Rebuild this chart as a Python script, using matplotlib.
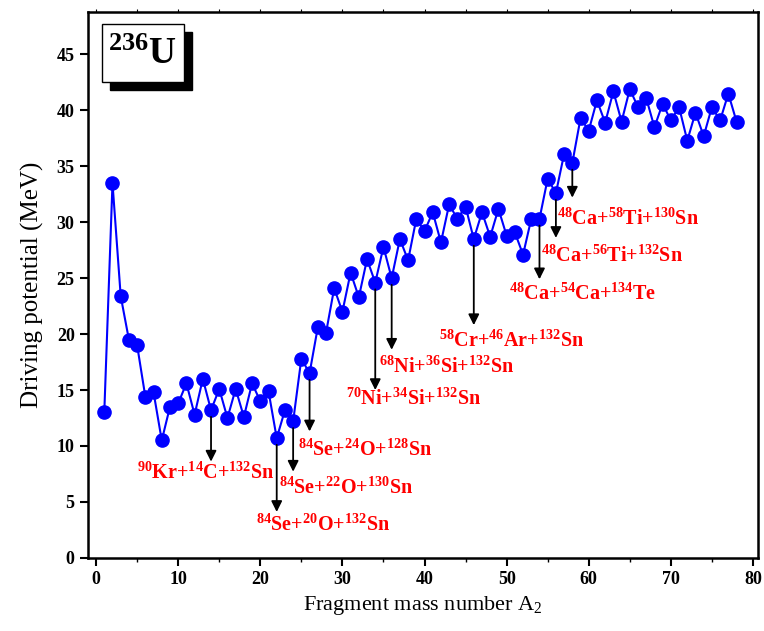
import numpy as np
import matplotlib.pyplot as plt
from matplotlib.patches import Rectangle

plt.rcParams['font.family'] = ['Liberation Serif', 'DejaVu Serif']
plt.rcParams['mathtext.fontset'] = 'custom'
plt.rcParams['mathtext.rm'] = 'Liberation Serif:bold'
plt.rcParams['mathtext.it'] = 'Liberation Serif:bold'
plt.rcParams['mathtext.bf'] = 'Liberation Serif:bold'

# fragment mass number A2 and driving potential (MeV)
a2 = list(range(1, 79))
v_drive = [13.0, 33.5, 23.4, 19.5, 19.0, 14.4, 14.8, 10.5, 13.5, 13.8,
           15.6, 12.8, 16.0, 13.2, 15.1, 12.5, 15.1, 12.6, 15.6, 14.0,
           14.9, 10.7, 13.2, 12.2, 17.8, 16.5, 20.6, 20.1, 24.1, 22.0,
           25.5, 23.3, 26.7, 24.6, 27.8, 25.0, 28.5, 26.6, 30.3, 29.2,
           30.9, 28.2, 31.6, 30.3, 31.4, 28.5, 30.9, 28.7, 31.2, 28.8,
           29.1, 27.1, 30.3, 30.3, 33.9, 32.6, 36.1, 35.3, 39.3, 38.2,
           40.9, 38.9, 41.7, 39.0, 41.9, 40.3, 41.1, 38.5, 40.6, 39.1,
           40.3, 37.3, 39.8, 37.7, 40.3, 39.1, 41.5, 39.0]

# marked configurations
mark_a2 = [14, 22, 24, 26, 34, 36, 46, 54, 56, 58]
mark_labels = [r'$^{90}$Kr+$^{14}$C+$^{132}$Sn',
               r'$^{84}$Se+$^{20}$O+$^{132}$Sn',
               r'$^{84}$Se+$^{22}$O+$^{130}$Sn',
               r'$^{84}$Se+$^{24}$O+$^{128}$Sn',
               r'$^{70}$Ni+$^{34}$Si+$^{132}$Sn',
               r'$^{68}$Ni+$^{36}$Si+$^{132}$Sn',
               r'$^{58}$Cr+$^{46}$Ar+$^{132}$Sn',
               r'$^{48}$Ca+$^{54}$Ca+$^{134}$Te',
               r'$^{48}$Ca+$^{56}$Ti+$^{132}$Sn',
               r'$^{48}$Ca+$^{58}$Ti+$^{130}$Sn']
arrow_tip = [8.6, 4.1, 7.7, 11.3, 15.0, 18.6, 20.8, 24.9, 28.6, 32.2]
label_xy = [(13.3, 7.6), (27.7, 2.9), (30.5, 6.2), (32.8, 9.6), (38.7, 14.2),
            (42.7, 17.0), (50.6, 19.4), (59.3, 23.6), (62.8, 27.0), (64.8, 30.3)]

fig = plt.figure(figsize=(7.64, 6.31), dpi=100)
ax = fig.add_axes([0.115, 0.116, 0.877, 0.865])

ax.plot(a2, v_drive, '-o', color='blue', lw=1.5, ms=9.5)

for x, lab, tip, (tx, ty) in zip(mark_a2, mark_labels, arrow_tip, label_xy):
    y0 = v_drive[a2.index(x)]
    ax.annotate('', xy=(x, tip), xytext=(x, y0 - 0.6),
                arrowprops=dict(arrowstyle='-|>', color='black', lw=1.3,
                                mutation_scale=16, shrinkA=0, shrinkB=0))
    ax.text(tx, ty, lab, color='red', fontsize=14.5, fontweight='bold',
            ha='center', va='center')

ax.set_xlim(-1, 80.6)
ax.set_ylim(0, 48.8)
ax.set_xticks(np.arange(0, 81, 10))
ax.set_xticks(np.arange(5, 81, 10), minor=True)
ax.set_yticks(np.arange(0, 46, 5))
ax.tick_params(axis='both', which='major', direction='out', length=6, width=1.5,
               labelsize=13)
ax.tick_params(axis='x', which='minor', direction='out', length=3, width=1)
ax.tick_params(axis='x', which='both', top=True, labeltop=False)
for t in ax.xaxis.get_major_ticks() + ax.xaxis.get_minor_ticks():
    t.tick2line.set_markersize(2)
    t.tick2line.set_markeredgewidth(0.8)
for lab in ax.get_xticklabels() + ax.get_yticklabels():
    lab.set_fontweight('bold')
for s in ax.spines.values():
    s.set_linewidth(1.8)

ax.set_xlabel(r'Fragment mass number A$_{\mathregular{2}}$', fontsize=16)
ax.set_ylabel('Driving potential (MeV)', fontsize=18, labelpad=9)

# nucleus label box with shadow
ax.add_patch(Rectangle((0.033, 0.857), 0.122, 0.106, transform=ax.transAxes,
                       facecolor='black', edgecolor='black', zorder=4))
ax.add_patch(Rectangle((0.021, 0.872), 0.122, 0.106, transform=ax.transAxes,
                       facecolor='white', edgecolor='black', lw=1, zorder=5))
ax.text(0.082, 0.922, r'$^{236}$U', transform=ax.transAxes, fontsize=27,
        fontweight='bold', ha='center', va='center', zorder=6)

fig.savefig('out.png', dpi=100)
